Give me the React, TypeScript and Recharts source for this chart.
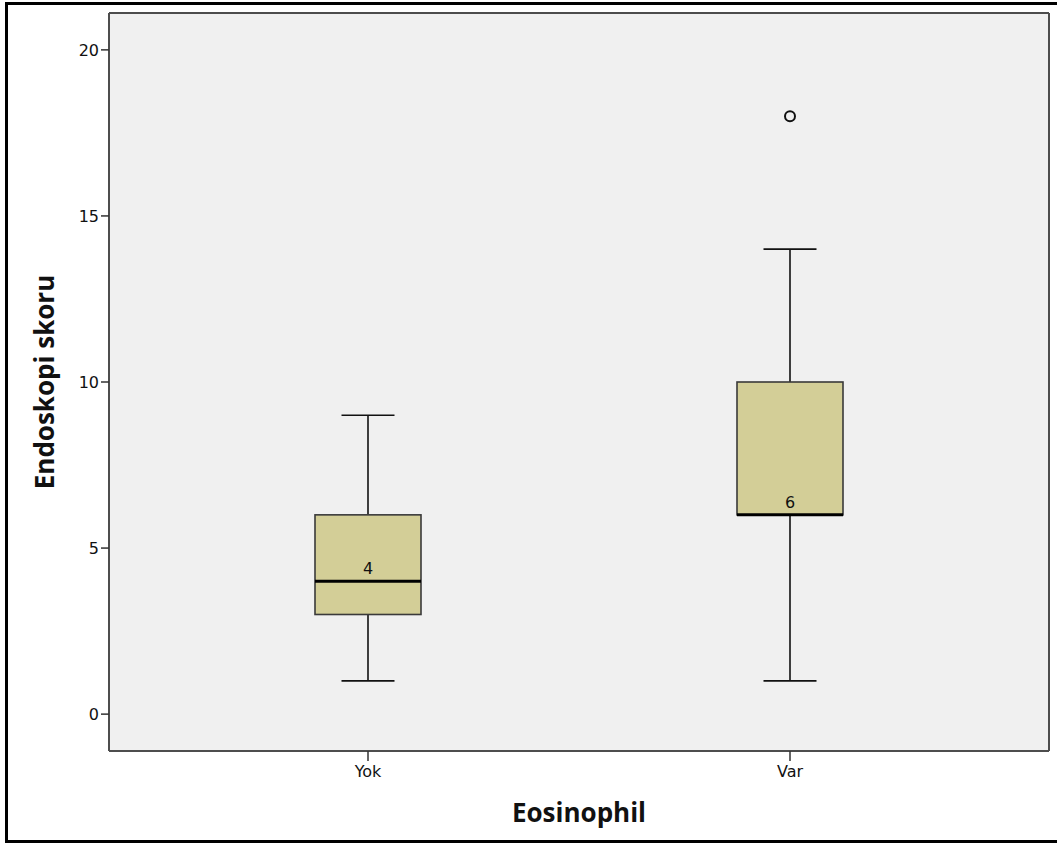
import React from 'react';
import { ComposedChart, Bar, Scatter, XAxis, YAxis, CartesianGrid } from 'recharts';

const categories = ['Yok', 'Var'];
const minValues = [1, 1];
const q1Values = [3, 6];
const medianValues = [4, 6];
const q3Values = [6, 10];
const maxValues = [9, 14];
const outlierValues: (number | null)[] = [null, 18];
const yTicks = [0, 5, 10, 15, 20];
const yDomain: [number, number] = [-1.11, 21.11];

const data = categories.map((name, i) => ({
  name,
  range: [minValues[i], maxValues[i]],
  min: minValues[i],
  q1: q1Values[i],
  median: medianValues[i],
  q3: q3Values[i],
  max: maxValues[i],
  outlier: outlierValues[i],
}));

const BoxShape = (props: any) => {
  const { x, y, width, height, payload } = props;
  if (payload == null || height == null) return null;
  const { min, q1, median, q3, max } = payload;
  const per = height / (max - min);
  const toY = (v: number) => y + (max - v) * per;
  const cx = x + width / 2;
  const capHalf = width / 4;
  return (
    <g>
      <line x1={cx} x2={cx} y1={toY(max)} y2={toY(q3)} stroke="#111" strokeWidth={1.6} />
      <line x1={cx} x2={cx} y1={toY(q1)} y2={toY(min)} stroke="#111" strokeWidth={1.6} />
      <line x1={cx - capHalf} x2={cx + capHalf} y1={toY(max)} y2={toY(max)} stroke="#111" strokeWidth={1.6} />
      <line x1={cx - capHalf} x2={cx + capHalf} y1={toY(min)} y2={toY(min)} stroke="#111" strokeWidth={1.6} />
      <rect x={x} y={toY(q3)} width={width} height={toY(q1) - toY(q3)} fill="#d3ce97" stroke="#3a3a3a" strokeWidth={1.6} />
      <line x1={x} x2={x + width} y1={toY(median)} y2={toY(median)} stroke="#000" strokeWidth={3} />
      <text x={cx} y={toY(median) - 7} textAnchor="middle" fontSize={16} fontFamily="DejaVu Sans" fill="#111">
        {median}
      </text>
    </g>
  );
};

const OutlierShape = (props: any) => {
  const { cx, cy, payload } = props;
  if (payload == null || payload.outlier == null || cx == null || cy == null) return null;
  return <circle cx={cx} cy={cy} r={5} fill="none" stroke="#111" strokeWidth={2} />;
};

const frameLine = { stroke: '#4d4d4d', strokeWidth: 2 };

export default function App() {
  return (
    <div style={{ position: 'absolute', left: 0, top: 0, width: 1057, height: 847, background: '#fff', fontFamily: 'DejaVu Sans' }}>
      <div
        style={{
          position: 'absolute',
          left: 5,
          top: 2,
          width: 1052,
          height: 841,
          borderTop: '3px solid #000',
          borderLeft: '3px solid #000',
          borderBottom: '3px solid #000',
          boxSizing: 'border-box',
        }}
      />
      <div style={{ position: 'absolute', left: 0, top: 0 }}>
        <ComposedChart width={1057} height={847} data={data} margin={{ top: 12, right: 7, bottom: 36, left: 0 }}>
          <CartesianGrid fill="#f0f0f0" horizontal={false} vertical={false} />
          <XAxis
            dataKey="name"
            type="category"
            padding={{ left: 48, right: 48 }}
            height={60}
            tickSize={10}
            tickLine={{ stroke: '#333', strokeWidth: 1.5 }}
            axisLine={frameLine}
            tick={{ fontSize: 16, fill: '#111', fontFamily: 'DejaVu Sans', dy: 3 }}
            label={{ value: 'Eosinophil', position: 'insideBottom', offset: -11, style: { fontSize: 26, fontWeight: 'bold', fill: '#111', fontFamily: 'Open Sans' } }}
          />
          <XAxis
            xAxisId="top"
            orientation="top"
            dataKey="name"
            type="category"
            padding={{ left: 48, right: 48 }}
            height={1}
            tick={false}
            tickLine={false}
            axisLine={frameLine}
          />
          <YAxis
            type="number"
            domain={yDomain}
            allowDataOverflow
            ticks={yTicks}
            width={109}
            tickSize={8}
            tickLine={{ stroke: '#333', strokeWidth: 1.5 }}
            axisLine={frameLine}
            tick={{ fontSize: 16, fill: '#111', fontFamily: 'DejaVu Sans' }}
            label={{ value: 'Endoskopi skoru', angle: -90, position: 'insideLeft', offset: 45, style: { textAnchor: 'middle', fontSize: 26, fontWeight: 'bold', fill: '#111', fontFamily: 'Open Sans' } }}
          />
          <YAxis
            yAxisId="right"
            orientation="right"
            type="number"
            domain={yDomain}
            allowDataOverflow
            width={1}
            tick={false}
            tickLine={false}
            axisLine={frameLine}
          />
          <Bar dataKey="range" barSize={106} shape={<BoxShape />} isAnimationActive={false} />
          <Scatter xAxisId="top" yAxisId="right" dataKey="outlier" shape={<OutlierShape />} isAnimationActive={false} />
        </ComposedChart>
      </div>
    </div>
  );
}
